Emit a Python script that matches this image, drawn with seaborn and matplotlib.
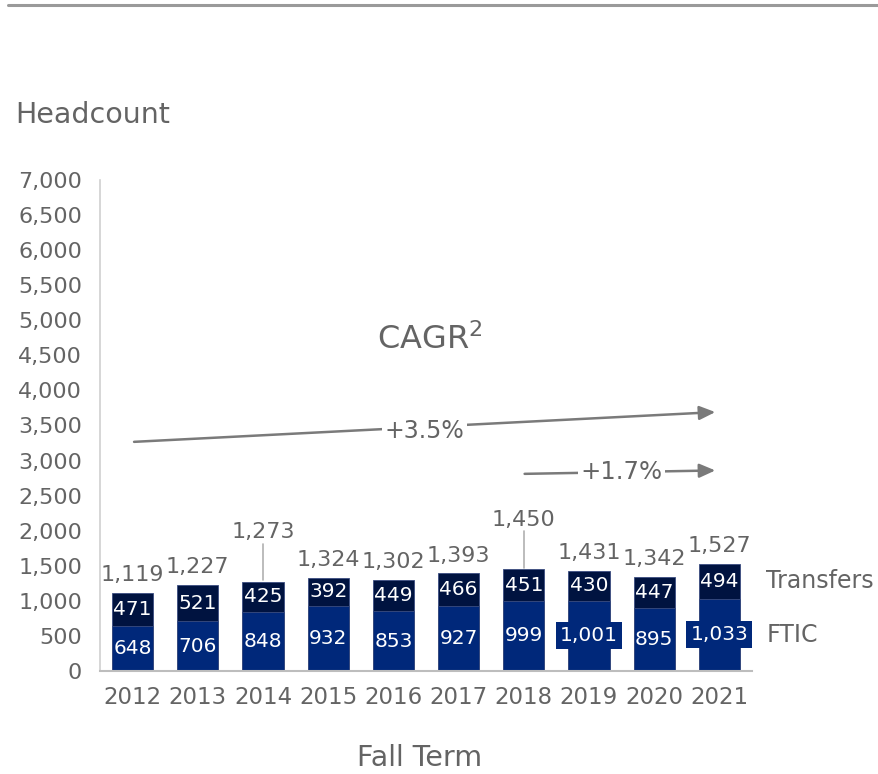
import matplotlib
matplotlib.use("Agg")
import matplotlib.pyplot as plt
from matplotlib.lines import Line2D
import seaborn as sns
import pandas as pd

years = ["2012", "2013", "2014", "2015", "2016", "2017", "2018", "2019", "2020", "2021"]
ftic = [648, 706, 848, 932, 853, 927, 999, 1001, 895, 1033]
transfers = [471, 521, 425, 392, 449, 466, 451, 430, 447, 494]
yticks = [0, 500, 1000, 1500, 2000, 2500, 3000, 3500, 4000, 4500, 5000, 5500, 6000, 6500, 7000]
boxed_years = ["2019", "2021"]
raised_years = ["2014", "2018"]
cagr_labels = ["+3.5%", "+1.7%"]

totals = [f + t for f, t in zip(ftic, transfers)]
df = pd.DataFrame({"year": years, "FTIC": ftic, "Transfers": transfers, "Total": totals})

sns.set_theme(style="white")
plt.rcParams['font.family'] = ['DejaVu Sans']
plt.rcParams['mathtext.fontset'] = 'dejavusans'

GRAY = "#646464"
FTIC_C = "#00287A"
TRANS_C = "#001340"

fig = plt.figure(figsize=(8.79, 7.74), dpi=100)
ax = fig.add_axes([100/879, 1-671/774, 652/879, 491/774])

sns.barplot(data=df, x="year", y="Total", color=TRANS_C, width=0.63, ax=ax,
            edgecolor="#3b4d80", linewidth=0.6, saturation=1)
sns.barplot(data=df, x="year", y="FTIC", color=FTIC_C, width=0.63, ax=ax,
            edgecolor="#3b4d80", linewidth=0.6, saturation=1)

ax.set_ylim(0, 7000)
ax.set_xlim(-0.5, 9.5)
ax.set_yticks(yticks)
ax.set_yticklabels([f"{v:,}" for v in yticks])
ax.tick_params(axis="y", length=0, pad=13, labelsize=16, labelcolor=GRAY)
ax.tick_params(axis="x", length=0, pad=11, labelsize=16.5, labelcolor=GRAY)
ax.set_xlabel("")
ax.set_ylabel("")
for s in ["top", "right"]:
    ax.spines[s].set_visible(False)
ax.spines["left"].set_color("#d0d0d0")
ax.spines["bottom"].set_color("#bdbdbd")
ax.spines["left"].set_linewidth(1.2)
ax.spines["bottom"].set_linewidth(1.5)

for i, y in enumerate(years):
    f, t, tot = ftic[i], transfers[i], totals[i]
    if y in boxed_years:
        ax.text(i, f/2, f"{f:,}", ha="center", va="center", color="white", fontsize=14.5,
                bbox=dict(boxstyle="square,pad=0.2", fc=FTIC_C, ec="none"))
    else:
        ax.text(i, f/2, f"{f:,}", ha="center", va="center", color="white", fontsize=14.5)
    ax.text(i, f + t/2, f"{t:,}", ha="center", va="center", color="white", fontsize=14.5)
    if y in raised_years:
        ax.plot([i, i], [tot + 20, tot + 540], color="#b0b0b0", lw=1.2)
        ax.text(i, tot + 560, f"{tot:,}", ha="center", va="bottom", color=GRAY, fontsize=16)
    else:
        ax.text(i, tot + 110, f"{tot:,}", ha="center", va="bottom", color=GRAY, fontsize=16)

ax.text(9.72, ftic[-1] + transfers[-1]/2, "Transfers", ha="left", va="center", color=GRAY, fontsize=17)
ax.text(9.72, ftic[-1]/2, "FTIC", ha="left", va="center", color=GRAY, fontsize=17)

# CAGR annotations
ax.text(4.56, 4720, "CAGR$^2$", ha="center", va="center", color=GRAY, fontsize=23)
ax.annotate("", xy=(8.98, 3693), xytext=(-0.02, 3265),
            arrowprops=dict(arrowstyle="-|>,head_length=0.8,head_width=0.35", color="#7a7a7a", lw=1.8))
ax.text(4.48, 3420, cagr_labels[0], ha="center", va="center", color=GRAY, fontsize=17,
        bbox=dict(boxstyle="square,pad=0.1", fc="white", ec="none"))
ax.annotate("", xy=(8.98, 2860), xytext=(5.97, 2810),
            arrowprops=dict(arrowstyle="-|>,head_length=0.8,head_width=0.35", color="#7a7a7a", lw=1.8))
ax.text(7.5, 2830, cagr_labels[1], ha="center", va="center", color=GRAY, fontsize=17.5,
        bbox=dict(boxstyle="square,pad=0.1", fc="white", ec="none"))

fig.text(15/879, 1-115/774, "Headcount", ha="left", va="center", color=GRAY, fontsize=20.5)
fig.text(420/879, 1-758/774, "Fall Term", ha="center", va="center", color=GRAY, fontsize=20.5)
fig.add_artist(Line2D([8/879, 1.0], [1-5/774, 1-5/774], color="#9a9a9a", lw=2.2,
                      transform=fig.transFigure))

fig.savefig("out.png", dpi=100)
